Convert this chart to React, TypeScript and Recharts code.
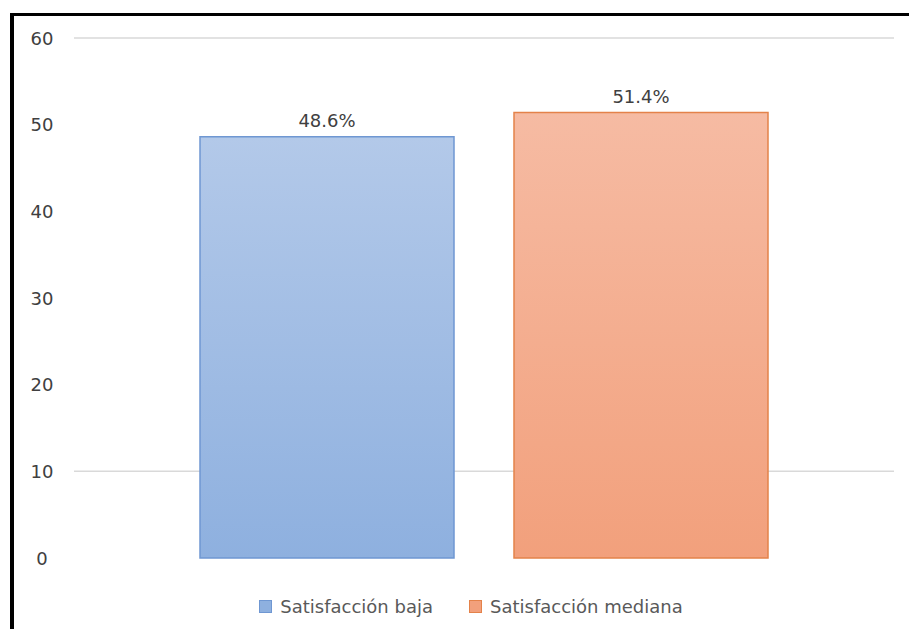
import React from "react";
import {
  BarChart,
  Bar,
  XAxis,
  YAxis,
  CartesianGrid,
  Legend,
  LabelList,
} from "recharts";

// Nivel de satisfacción: un solo grupo con dos series (porcentaje)
const seriesKeys = ["baja", "mediana"];
const seriesNames = ["Satisfacción baja", "Satisfacción mediana"];
const seriesValues = [48.6, 51.4];
const yTicks = [0, 10, 20, 30, 40, 50, 60];
const gridLines = [10, 60];

const FONT = '"DejaVu Sans", sans-serif';

const palette = [
  { top: "#b3c9e9", bottom: "#8eb0df", stroke: "#6f97d2" },
  { top: "#f6bba3", bottom: "#f2a07c", stroke: "#e4824a" },
];

const data = [
  seriesKeys.reduce<Record<string, string | number>>(
    (row, key, i) => ({ ...row, [key]: seriesValues[i] }),
    { name: "" }
  ),
];

function YTick({ y, payload }: { y?: number; payload?: { value: number } }) {
  return (
    <text
      x={42}
      y={y}
      textAnchor="middle"
      dominantBaseline="central"
      fontFamily={FONT}
      fontSize={18}
      fill="#404040"
    >
      {payload?.value}
    </text>
  );
}

function LegendBox() {
  return (
    <div
      style={{
        height: 24,
        display: "flex",
        justifyContent: "center",
        alignItems: "center",
        gap: 36,
        fontFamily: FONT,
        fontSize: 18,
        color: "#595959",
      }}
    >
      {seriesNames.map((name, i) => (
        <div key={name} style={{ display: "flex", alignItems: "center", gap: 8 }}>
          <span
            style={{
              width: 11,
              height: 11,
              background: palette[i].bottom,
              border: `1px solid ${palette[i].stroke}`,
            }}
          />
          <span>{name}</span>
        </div>
      ))}
    </div>
  );
}

export default function App() {
  return (
    <div
      style={{
        position: "fixed",
        left: 0,
        top: 0,
        width: 909,
        height: 629,
        background: "#fff",
        overflow: "hidden",
      }}
    >
      <div
        style={{
          position: "absolute",
          left: 10,
          top: 13,
          right: 0,
          bottom: 0,
          borderTop: "3px solid #000",
          borderLeft: "4px solid #000",
        }}
      />
      <div style={{ position: "absolute", left: 0, top: 0 }}>
        <BarChart
          width={909}
          height={629}
          data={data}
          margin={{ top: 38, right: 15, bottom: 47, left: 14 }}
          barGap={60}
        >
          <defs>
            {palette.map((c, i) => (
              <linearGradient key={i} id={`fill${i}`} x1="0" y1="0" x2="0" y2="1">
                <stop offset="0%" stopColor={c.top} />
                <stop offset="100%" stopColor={c.bottom} />
              </linearGradient>
            ))}
          </defs>
          <CartesianGrid
            vertical={false}
            horizontalValues={gridLines}
            stroke="#d9d9d9"
            strokeWidth={1.5}
          />
          <XAxis dataKey="name" hide />
          <YAxis
            width={60}
            domain={[0, 60]}
            ticks={yTicks}
            axisLine={false}
            tickLine={false}
            tick={<YTick />}
          />
          <Legend
            content={<LegendBox />}
            wrapperStyle={{ bottom: 11, left: 33, width: 876 }}
          />
          {seriesKeys.map((key, i) => (
            <Bar
              key={key}
              dataKey={key}
              name={seriesNames[i]}
              fill={`url(#fill${i})`}
              stroke={palette[i].stroke}
              strokeWidth={1.5}
              barSize={254}
              isAnimationActive={false}
            >
              <LabelList
                dataKey={key}
                position="top"
                offset={10}
                fontFamily={FONT}
                fontSize={18}
                fill="#404040"
                formatter={(v: unknown) => `${Number(v).toFixed(1)}%`}
              />
            </Bar>
          ))}
        </BarChart>
      </div>
    </div>
  );
}
